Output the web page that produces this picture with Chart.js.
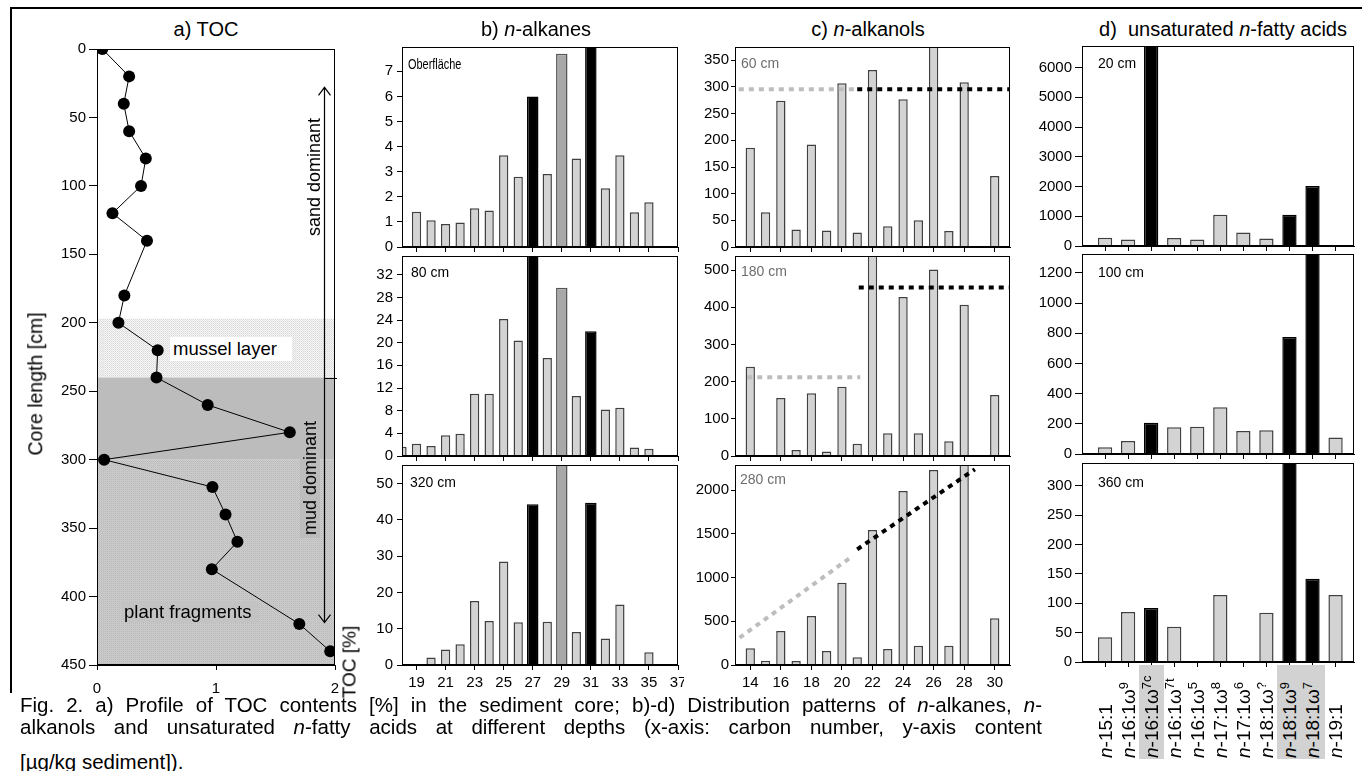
<!DOCTYPE html>
<html>
<head>
<meta charset="utf-8">
<script src="https://cdn.jsdelivr.net/npm/chart.js@4.4.1/dist/chart.umd.min.js"></script>
<style>
  body { margin: 0; background: #fff; }
  #fig { position: relative; width: 1362px; height: 771px; overflow: hidden; background: #fff;
         font-family: "Liberation Sans", Arial, sans-serif; color: #000; }
  #fig canvas { position: absolute; z-index: 1; }
  .lbl { position: absolute; white-space: nowrap; line-height: 1; z-index: 3; }
  .box { position: absolute; z-index: 2; }
  .title { font-size: 20px; top: 19px; transform: translateX(-50%); }
  .rot { transform: translate(-50%, -50%) rotate(-90deg); }
  .depth { font-size: 14px; }
  .grey { color: #6e6e6e; }
  .fa { position: absolute; width: 94px; height: 25px; line-height: 25px; font-size: 19px; padding-left: 1px; z-index: 3;
        box-sizing: border-box; white-space: nowrap; transform-origin: 0 0; transform: rotate(-90deg); }
  .fa.hl { background: #d2d2d2; }
  .fa sup { font-size: 13px; vertical-align: 7px; line-height: 0; }
  .frameTop { position: absolute; left: 11px; top: 7px; width: 1351px; height: 2px; background: #000; }
  .frameLeft { position: absolute; left: 10px; top: 7px; width: 2px; height: 686px; background: #000; }
  .cap { position: absolute; left: 20px; width: 1022px; font-size: 20.5px; line-height: 21px; text-align: justify;
         text-align-last: justify; white-space: nowrap; z-index: 3; }
</style>
</head>
<body>
<div id="fig">
  <div class="frameTop"></div>
  <div class="frameLeft"></div>

  <div class="lbl title" style="left:206px">a) TOC</div>
  <div class="lbl title" style="left:536px">b) <i>n</i>-alkanes</div>
  <div class="lbl title" style="left:868px">c) <i>n</i>-alkanols</div>
  <div class="lbl title" style="left:1223px">d)&nbsp; unsaturated <i>n</i>-fatty acids</div>

  <div class="lbl rot" style="left:36px;top:384px;font-size:19.5px">Core length [cm]</div>
  <div class="lbl rot" style="left:349px;top:662px;font-size:19px">TOC [%]</div>

  <div class="box" style="left:170px;top:337px;width:122px;height:24px;background:#fff"></div>
  <div class="lbl" style="left:173px;top:340px;font-size:18.5px">mussel layer</div>
  <div class="box" style="left:122px;top:602px;width:137px;height:21px;background:#c3c3c3"></div>
  <div class="lbl" style="left:124px;top:603px;font-size:18.5px">plant fragments</div>
  <div class="lbl rot" style="left:314px;top:177px;font-size:18px">sand dominant</div>
  <div class="lbl rot" style="left:310px;top:478px;font-size:18px;background:#bcbcbc;padding:1px 3px">mud dominant</div>

  <div class="lbl depth" style="left:408px;top:57px;transform:scaleX(0.78);transform-origin:0 0">Oberfläche</div>
  <div class="lbl depth" style="left:411px;top:265px">80 cm</div>
  <div class="lbl depth" style="left:410px;top:475px">320 cm</div>
  <div class="lbl depth grey" style="left:741px;top:56px">60 cm</div>
  <div class="lbl depth grey" style="left:741px;top:264px">180 cm</div>
  <div class="lbl depth grey" style="left:740px;top:472px">280 cm</div>
  <div class="lbl depth" style="left:1098px;top:56px">20 cm</div>
  <div class="lbl depth" style="left:1098px;top:265px">100 cm</div>
  <div class="lbl depth" style="left:1098px;top:475px">360 cm</div>

  <div class="cap" style="top:694px">Fig. 2. a) Profile of TOC contents [%] in the sediment core; b)-d) Distribution patterns of <i>n</i>-alkanes, <i>n</i>-</div>
  <div class="cap" style="top:716px">alkanols and unsaturated <i>n</i>-fatty acids at different depths (x-axis: carbon number, y-axis content</div>
  <div class="cap" style="top:751px;text-align-last:left">[µg/kg sediment]).</div>
</div>

<script>
// ---- a) TOC profile ----
const tocDepth = [0, 20, 40, 60, 80, 100, 120, 140, 180, 200, 220, 240, 260, 280, 300, 320, 340, 360, 380, 420, 440];
const tocValue = [0.045, 0.27, 0.225, 0.27, 0.41, 0.37, 0.13, 0.42, 0.23, 0.18, 0.51, 0.5, 0.93, 1.62, 0.06, 0.97, 1.08, 1.18, 0.965, 1.7, 1.96];
const tocDepthTicks = [0, 50, 100, 150, 200, 250, 300, 350, 400, 450];
const tocTicks = [0, 1, 2];
const musselLayer = [197, 240];
const mudLayer = [240, 300];
const plantLayer = [300, 450];
const arrowX = 1.91;
const sandArrow = [240, 28];
const mudArrow = [240, 419];

// ---- b) n-alkanes ----
const alkaneCarbons = [18, 19, 20, 21, 22, 23, 24, 25, 26, 27, 28, 29, 30, 31, 32, 33, 34, 35, 36];
const alkaneSurface = [0, 1.4, 1.07, 0.92, 0.98, 1.54, 1.45, 3.66, 2.8, 6.0, 2.91, 7.7, 3.53, 9.0, 2.34, 3.66, 1.38, 1.78, 0];
const alkane80cm = [1.65, 2.18, 1.77, 3.65, 3.94, 11.0, 11.0, 24.2, 20.4, 40, 17.3, 29.7, 10.6, 22.0, 8.2, 8.5, 1.48, 1.3, 0];
const alkane320cm = [0, 0, 2.1, 4.3, 5.7, 17.6, 12.1, 28.5, 11.8, 44.3, 11.9, 60, 9.1, 44.7, 7.3, 16.7, 0, 3.5, 0];
const alkaneBlack = [27, 31];
const alkaneGrey = [29];
const alkaneTicks = [19, 21, 23, 25, 27, 29, 31, 33, 35, 37];

// ---- c) n-alkanols ----
const alkanolCarbons = [14, 15, 16, 17, 18, 19, 20, 21, 22, 23, 24, 25, 26, 27, 28, 29, 30];
const alkanol60cm = [186, 65, 274, 33, 192, 31, 307, 27, 332, 39, 277, 50, 420, 30, 309, 0, 133];
const alkanol180cm = [240, 0, 156, 16, 169, 12, 186, 33, 600, 61, 428, 61, 502, 40, 407, 0, 164];
const alkanol280cm = [191, 49, 389, 46, 560, 160, 941, 88, 1543, 183, 1989, 221, 2229, 221, 2500, 0, 534];
const trend60Short = [[13.25, 296], [21, 296]];
const trend60Long = [[21, 296], [31, 296]];
const trend180Short = [[13.8, 212], [21.2, 212]];
const trend180Long = [[21.1, 453], [31, 453]];
const trend280Short = [[13.3, 312], [20.7, 1246]];
const trend280Long = [[21.0, 1322], [28.7, 2237]];
const alkanolTicks = [14, 16, 18, 20, 22, 24, 26, 28, 30];

// ---- d) unsaturated n-fatty acids ----
const fattyAcids = [['15:1', ''], ['16:1ω', '9'], ['16:1ω', '7c'], ['16:1ω', '7t'], ['16:1ω', '5'], ['17:1ω', '8'],
                    ['17:1ω', '6'], ['18:1ω', '?'], ['18:1ω', '9'], ['18:1ω', '7'], ['19:1', '']];
const fatty20cm = [280, 220, 7000, 270, 220, 1050, 450, 250, 1050, 2020, 0];
const fatty100cm = [44, 86, 207, 177, 181, 309, 152, 157, 775, 1500, 110];
const fatty360cm = [42, 85, 92, 60, 0, 114, 0, 84, 400, 142, 114];
const fattyBlack = [2, 8, 9];
const fattyTicks = [1, 2, 3, 4, 5, 6, 7, 8, 9, 10, 11];

const FONT = '"Liberation Sans", Arial, sans-serif';
Chart.defaults.font.family = FONT;
const fig = document.getElementById('fig');

// box around every plot area
const framePlugin = {
  id: 'frame',
  afterDatasetsDraw(chart) {
    const a = chart.chartArea, ctx = chart.ctx;
    ctx.save();
    ctx.strokeStyle = '#000';
    ctx.lineWidth = 1;
    ctx.strokeRect(Math.round(a.left) + 0.5, Math.round(a.top) + 0.5,
                   Math.round(a.right - a.left) - 1, Math.round(a.bottom - a.top) - 1);
    ctx.restore();
  }
};

function axis(o) {
  return {
    type: 'linear', position: o.position, min: o.min, max: o.max, reverse: !!o.reverse, offset: false,
    grid: { display: true, drawOnChartArea: false, drawTicks: true, tickLength: o.tickLength, tickColor: '#000', offset: false },
    border: { display: true, color: '#000', width: 1 },
    ticks: { display: o.labels !== false, autoSkip: false, maxRotation: 0, minRotation: 0, padding: o.padding,
             color: '#000', font: { size: 15 }, callback: v => String(v) },
    afterBuildTicks: s => { s.ticks = o.ticks.map(v => ({ value: v })); },
    afterFit: s => {
      if (o.position === 'left') s.width = o.size; else s.height = o.size;
      s.paddingLeft = 0; s.paddingRight = 0; s.paddingTop = 0; s.paddingBottom = 0;
    }
  };
}

function makeCanvas(box, yw, pt, pr, xh) {
  const cv = document.createElement('canvas');
  const w = box.r - box.l + yw + pr, h = box.b - box.t + pt + xh;
  cv.width = w; cv.height = h;
  cv.style.left = (box.l - yw) + 'px';
  cv.style.top = (box.t - pt) + 'px';
  fig.appendChild(cv);
  return cv;
}

function pts(list) { return list.map(([x, y]) => ({ x, y })); }

function trendSet(list, colour) {
  return { type: 'line', data: pts(list), borderColor: colour, borderWidth: 4, borderDash: [5, 5],
           borderCapStyle: 'butt', pointRadius: 0, fill: false, tension: 0, order: 0 };
}

function barChart(box, p) {
  const YW = 60, PT = 5, PR = 6, XH = p.xLabels ? 34 : 10;
  const cv = makeCanvas(box, YW, PT, PR, XH);
  const light = [], dark = [], darkFill = [], darkLine = [];
  p.xs.forEach((x, i) => {
    const v = p.values[i];
    if (!v) return;
    const c = p.colourOf(x, i);
    if (c) { dark.push({ x, y: v }); darkFill.push(c); darkLine.push(c === '#000' ? '#000' : '#555'); }
    else light.push({ x, y: v });
  });
  const datasets = [
    { type: 'bar', data: light, backgroundColor: '#d3d3d3', borderColor: '#404040', borderWidth: 1.5,
      barPercentage: p.lightWidth, categoryPercentage: 1, grouped: false, order: 1 },
    { type: 'bar', data: dark, backgroundColor: darkFill, borderColor: darkLine, borderWidth: 1.5,
      barPercentage: p.darkWidth, categoryPercentage: 1, grouped: false, order: 1 }
  ].concat(p.lines || []);
  const chart = new Chart(cv.getContext('2d'), {
    type: 'bar',
    data: { datasets },
    options: {
      responsive: false, animation: false, events: [],
      layout: { padding: { top: PT, right: PR, left: 0, bottom: 0 } },
      plugins: { legend: { display: false }, tooltip: { enabled: false } },
      scales: {
        x: axis({ position: 'bottom', min: p.xMin, max: p.xMax, ticks: p.xTicks, tickLength: 5, padding: 4,
                  labels: !!p.xLabels, size: XH }),
        y: axis({ position: 'left', min: 0, max: p.yMax, ticks: p.yTicks, tickLength: p.yTickLen, padding: p.yPad, size: YW })
      }
    },
    plugins: [framePlugin]
  });
  chart.$left = box.l - YW;
  return chart;
}

// ---------- a) TOC ----------
function makeTile(colours) {
  const t = document.createElement('canvas');
  t.width = colours[0].length; t.height = colours.length;
  const c = t.getContext('2d');
  colours.forEach((row, j) => row.forEach((col, i) => { c.fillStyle = col; c.fillRect(i, j, 1, 1); }));
  return t;
}

const tocLayers = {
  id: 'tocLayers',
  beforeDraw(chart) {
    const { ctx, chartArea: a, scales: { y } } = chart;
    const mussel = ctx.createPattern(makeTile([['#d9d9d9', '#f5f5f5'], ['#f5f5f5', '#e4e4e4']]), 'repeat');
    const plant = ctx.createPattern(makeTile([['#b9b9b9', '#cdcdcd'], ['#cdcdcd', '#c3c3c3']]), 'repeat');
    const band = (r, fill) => {
      const t = y.getPixelForValue(r[0]), b = y.getPixelForValue(r[1]);
      ctx.fillStyle = fill;
      ctx.fillRect(a.left, t, a.right - a.left, b - t);
    };
    ctx.save();
    band(musselLayer, mussel);
    band(mudLayer, '#bcbcbc');
    band(plantLayer, plant);
    ctx.restore();
  }
};

const tocArrows = {
  id: 'tocArrows',
  afterDatasetsDraw(chart) {
    const { ctx, scales: { x, y } } = chart;
    const px = Math.round(x.getPixelForValue(arrowX)) + 0.5;
    const mid = y.getPixelForValue(sandArrow[0]);
    const top = y.getPixelForValue(sandArrow[1]);
    const bot = y.getPixelForValue(mudArrow[1]);
    ctx.save();
    ctx.strokeStyle = '#000';
    ctx.lineWidth = 1.2;
    ctx.beginPath();
    ctx.moveTo(px, top); ctx.lineTo(px, bot);
    ctx.moveTo(px - 6, top + 8); ctx.lineTo(px, top); ctx.lineTo(px + 6, top + 8);
    ctx.moveTo(px - 6, bot - 8); ctx.lineTo(px, bot); ctx.lineTo(px + 6, bot - 8);
    ctx.moveTo(px, Math.round(mid) + 0.5); ctx.lineTo(x.getPixelForValue(2) + 2, Math.round(mid) + 0.5);
    ctx.stroke();
    ctx.restore();
  }
};

(function () {
  const box = { l: 97, t: 49, r: 335, b: 665 };
  const YW = 60, PT = 8, PR = 12, XH = 34;
  const cv = makeCanvas(box, YW, PT, PR, XH);
  new Chart(cv.getContext('2d'), {
    type: 'scatter',
    data: {
      datasets: [{
        data: tocDepth.map((d, i) => ({ x: tocValue[i], y: d })),
        showLine: true, borderColor: '#000', borderWidth: 1, tension: 0,
        pointRadius: 6, pointBackgroundColor: '#000', pointBorderColor: '#000', pointBorderWidth: 0
      }]
    },
    options: {
      responsive: false, animation: false, events: [],
      layout: { padding: { top: PT, right: PR, left: 0, bottom: 0 } },
      plugins: { legend: { display: false }, tooltip: { enabled: false } },
      scales: {
        x: axis({ position: 'bottom', min: 0, max: 2, ticks: tocTicks, tickLength: 5, padding: 10, size: XH }),
        y: axis({ position: 'left', min: 0, max: 450, reverse: true, ticks: tocDepthTicks, tickLength: 8, padding: 3, size: YW })
      }
    },
    plugins: [tocLayers, tocArrows, framePlugin]
  });
})();

// ---------- b) n-alkanes ----------
const alkaneColour = x => alkaneBlack.includes(x) ? '#000' : (alkaneGrey.includes(x) ? '#a8a8a8' : null);
const alkaneBase = { xs: alkaneCarbons, xMin: 18, xMax: 37, xTicks: alkaneTicks, colourOf: alkaneColour,
                     lightWidth: 0.64, darkWidth: 0.79, yTickLen: 5, yPad: 4 };
barChart({ l: 402, t: 47, r: 678, b: 247 }, Object.assign({}, alkaneBase,
  { values: alkaneSurface, yMax: 7.97, yTicks: [0, 1, 2, 3, 4, 5, 6, 7] }));
barChart({ l: 402, t: 256, r: 678, b: 456 }, Object.assign({}, alkaneBase,
  { values: alkane80cm, yMax: 35.3, yTicks: [0, 4, 8, 12, 16, 20, 24, 28, 32] }));
barChart({ l: 402, t: 465, r: 678, b: 665 }, Object.assign({}, alkaneBase,
  { values: alkane320cm, yMax: 55.1, yTicks: [0, 10, 20, 30, 40, 50], xLabels: true }));

// ---------- c) n-alkanols ----------
const alkanolBase = { xs: alkanolCarbons, xMin: 13, xMax: 31, xTicks: alkanolTicks, colourOf: () => null,
                      lightWidth: 0.61, darkWidth: 0.61, yTickLen: 4, yPad: 2 };
barChart({ l: 735, t: 47, r: 1010, b: 247 }, Object.assign({}, alkanolBase,
  { values: alkanol60cm, yMax: 375, yTicks: [0, 50, 100, 150, 200, 250, 300, 350],
    lines: [trendSet(trend60Short, '#bdbdbd'), trendSet(trend60Long, '#000')] }));
barChart({ l: 735, t: 256, r: 1010, b: 456 }, Object.assign({}, alkanolBase,
  { values: alkanol180cm, yMax: 538, yTicks: [0, 100, 200, 300, 400, 500],
    lines: [trendSet(trend180Short, '#bdbdbd'), trendSet(trend180Long, '#000')] }));
barChart({ l: 735, t: 465, r: 1010, b: 665 }, Object.assign({}, alkanolBase,
  { values: alkanol280cm, yMax: 2286, yTicks: [0, 500, 1000, 1500, 2000], xLabels: true,
    lines: [trendSet(trend280Short, '#bdbdbd'), trendSet(trend280Long, '#000')] }));

// ---------- d) unsaturated n-fatty acids ----------
const fattyColour = (x, i) => fattyBlack.includes(i) ? '#000' : null;
const fattyBase = { xs: fattyTicks, xMin: 0, xMax: 11.8, xTicks: fattyTicks, colourOf: fattyColour,
                    lightWidth: 0.62, darkWidth: 0.62, yTickLen: 7, yPad: 3 };
barChart({ l: 1082, t: 46, r: 1354, b: 246 }, Object.assign({}, fattyBase,
  { values: fatty20cm, yMax: 6724, yTicks: [0, 1000, 2000, 3000, 4000, 5000, 6000] }));
barChart({ l: 1082, t: 254, r: 1354, b: 454 }, Object.assign({}, fattyBase,
  { values: fatty100cm, yMax: 1325, yTicks: [0, 200, 400, 600, 800, 1000, 1200] }));
const fattyChart = barChart({ l: 1082, t: 463, r: 1354, b: 662 }, Object.assign({}, fattyBase,
  { values: fatty360cm, yMax: 339, yTicks: [0, 50, 100, 150, 200, 250, 300] }));

// rotated category labels under the last fatty-acid plot
fattyAcids.forEach((fa, i) => {
  const cx = fattyChart.$left + fattyChart.scales.x.getPixelForValue(fattyTicks[i]);
  const el = document.createElement('div');
  el.className = 'fa' + (fattyBlack.includes(i) ? ' hl' : '');
  el.style.left = (cx - 12.5) + 'px';
  el.style.top = '759px';
  el.innerHTML = '<i>n</i>-' + fa[0] + (fa[1] ? '<sup>' + fa[1] + '</sup>' : '');
  fig.appendChild(el);
});
</script>
</body>
</html>
